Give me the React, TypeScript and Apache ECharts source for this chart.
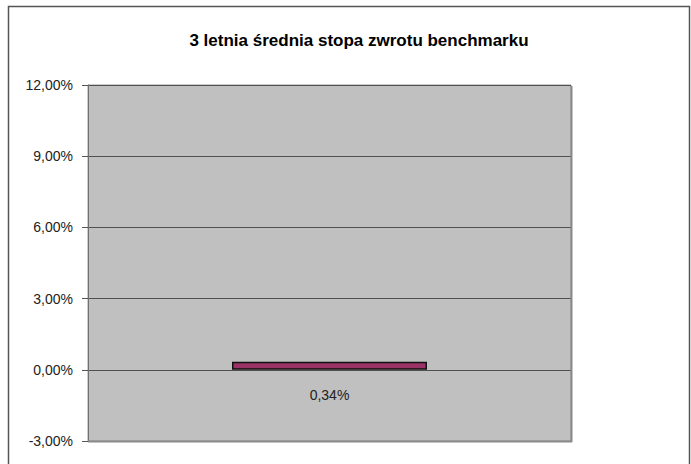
import React, { useEffect, useRef } from "react";
import * as echarts from "echarts";

const categories: string[] = ["3 letnia średnia stopa zwrotu benchmarku"];
const values: number[] = [0.34];
const yMin = -3;
const yMax = 12;
const yInterval = 3;
const titleText = "3 letnia średnia stopa zwrotu benchmarku";

const fmt = (v: number) => v.toFixed(2).replace(".", ",") + "%";

export default function App() {
  const ref = useRef<HTMLDivElement>(null);
  useEffect(() => {
    if (!ref.current) return;
    const chart = echarts.init(ref.current, undefined, { renderer: "svg" });
    chart.setOption({
      animation: false,
      backgroundColor: "#ffffff",
      textStyle: { fontFamily: "Liberation Sans, Arial, sans-serif" },
      title: {
        text: titleText,
        left: 354,
        textAlign: "center",
        top: 27,
        textStyle: {
          fontFamily: "Liberation Sans, Arial, sans-serif",
          fontSize: 17,
          fontWeight: "bold",
          color: "#000000",
        },
      },
      graphic: [
        {
          type: "rect",
          shape: { x: 8.5, y: 6.5, width: 681, height: 480 },
          style: { fill: "none", stroke: "#555555", lineWidth: 1.5 },
          silent: true,
        },
        {
          type: "line",
          shape: { x1: 571.5, y1: 86, x2: 571.5, y2: 442 },
          style: { stroke: "#8a8a8a", lineWidth: 2 },
          silent: true,
          z: 10,
        },
        {
          type: "line",
          shape: { x1: 88, y1: 441.5, x2: 572, y2: 441.5 },
          style: { stroke: "#8a8a8a", lineWidth: 2 },
          silent: true,
          z: 10,
        },
      ],
      grid: {
        left: 88,
        right: 120,
        top: 85,
        bottom: 23,
        show: true,
        backgroundColor: "#c0c0c0",
        borderColor: "#9a9a9a",
        borderWidth: 1,
        containLabel: false,
      },
      xAxis: {
        type: "category",
        data: categories,
        axisLine: { show: false },
        axisTick: { show: false },
        axisLabel: { show: false },
        splitLine: { show: false },
      },
      yAxis: {
        type: "value",
        min: yMin,
        max: yMax,
        interval: yInterval,
        axisLine: { show: true, lineStyle: { color: "#707070", width: 1 } },
        axisTick: { show: true, length: 6, lineStyle: { color: "#555555" } },
        axisLabel: {
          formatter: (v: number) => fmt(v),
          color: "#222222",
          fontSize: 14,
          margin: 15,
          fontFamily: "Liberation Sans, Arial, sans-serif",
        },
        splitLine: { show: true, lineStyle: { color: "#505050", width: 1 } },
      },
      series: [
        {
          type: "bar",
          data: values,
          barWidth: 195,
          itemStyle: { color: "#993366", borderColor: "#111111", borderWidth: 1.5 },
          label: {
            show: true,
            position: "bottom",
            distance: 18,
            formatter: (p: any) => fmt(p.value),
            color: "#222222",
            fontSize: 14,
            fontFamily: "Liberation Sans, Arial, sans-serif",
          },
        },
      ],
    });
    return () => chart.dispose();
  }, []);
  return (
    <div
      ref={ref}
      style={{ position: "fixed", left: 0, top: 0, width: 691, height: 464 }}
    />
  );
}
